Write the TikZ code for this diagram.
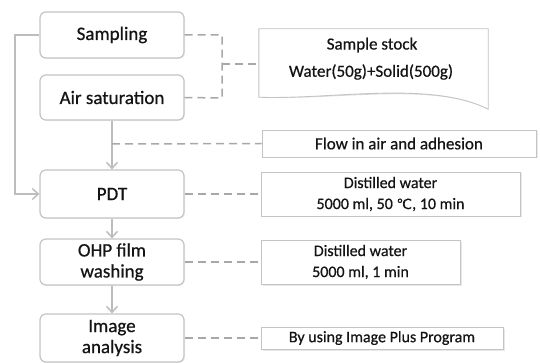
\documentclass[tikz,border=0pt]{standalone}
\usepackage{fontspec}
\setmainfont{Carlito}[FakeBold=0.6]
\newfontfamily\symfont{DejaVu Sans}[FakeBold=0.4]
\usetikzlibrary{arrows.meta,shadows}
\definecolor{boxline}{HTML}{C4C4C4}
\definecolor{dashline}{HTML}{A8A8A8}
\definecolor{arrline}{HTML}{BDBDBD}
\definecolor{txt}{HTML}{141414}
\tikzset{
  stepbox/.style={draw=boxline, line width=1.2pt, rounded corners=6pt, fill=white,
    minimum width=144pt, inner sep=0pt, align=center, text=txt,
    font=\fontsize{19}{22}\selectfont,
    drop shadow={shadow xshift=1pt, shadow yshift=-1pt, opacity=0.12}},
  notebox/.style={draw=boxline, line width=0.9pt, fill=white, inner sep=0pt,
    align=center, text=txt, font=\fontsize{17}{21}\selectfont,
    drop shadow={shadow xshift=1.5pt, shadow yshift=-1.5pt, opacity=0.18}},
  flowarrow/.style={draw=arrline, line width=1.5pt, -{Straight Barb[length=6pt,width=11pt,line width=1.5pt]}},
  dashlink/.style={draw=dashline, line width=1.5pt, dash pattern=on 8pt off 5pt},
}
\begin{document}
\begin{tikzpicture}[x=1pt,y=-1pt]
\useasboundingbox (0,0) rectangle (540,363);
% left process boxes
\node[stepbox, minimum height=46pt] (samp) at (112,35) {Sampling};
\node[stepbox, minimum height=45pt] (air) at (112,97.5) {Air saturation};
\node[stepbox, minimum height=48pt] (pdt) at (112,194) {PDT};
\node[stepbox, minimum height=46pt, font=\fontsize{19}{21}\selectfont] (ohp) at (112,262) {OHP film\\washing};
\node[stepbox, minimum height=48pt, font=\fontsize{19}{21}\selectfont] (img) at (112,338) {Image\\analysis};
% sample stock (document shape)
\node[minimum width=229pt, minimum height=68pt, inner sep=0pt] (ss) at (373.5,63) {};
\fill[black, opacity=0.15, shift={(1.5,1.5)}] (ss.north west) -- (ss.north east) -- ([yshift=-12pt]ss.south east)
  .. controls (430,80) and (330,100) .. (ss.south west) -- cycle;
\draw[boxline, line width=0.9pt, fill=white] (ss.north west) -- (ss.north east) -- ([yshift=-12pt]ss.south east)
  .. controls (430,80) and (330,100) .. (ss.south west) -- cycle;
\node[text=txt, font=\fontsize{17}{21}\selectfont] (ss1) at (372,45) {Sample stock};
\node[text=txt, font=\fontsize{17}{21}\selectfont] (ss2) at (371,72) {Water(50g)+Solid(500g)};
% note boxes
\node[notebox, minimum width=274pt, minimum height=27pt] (flow) at (399,143.5) {Flow in air and adhesion};
\node[notebox, minimum width=259pt, minimum height=44pt, font=\fontsize{16}{21}\selectfont] (dw1) at (390.5,194) {Distilled water\\5000 ml, 50 {\symfont\fontsize{14}{14}\selectfont ℃}, 10 min};
\node[notebox, minimum width=199pt, minimum height=44pt, font=\fontsize{16}{21}\selectfont] (dw2) at (360.5,262) {Distilled water\\5000 ml, 1 min};
\node[notebox, minimum width=242pt, minimum height=22pt, font=\fontsize{16}{20}\selectfont] (ip) at (382,338) {By using Image Plus Program};
% flow arrows
\coordinate (lc1) at (15,35);
\coordinate (lc2) at (15,194);
\draw[flowarrow] (samp.west) -- (lc1) -- (lc2) -- (pdt.west);
\draw[flowarrow] (air.south) -- (pdt.north);
\draw[flowarrow] (pdt.south) -- (ohp.north);
\draw[flowarrow] (ohp.south) -- (img.north);
% dashed links
\coordinate (d1) at (222,35);
\coordinate (d2) at (222,98);
\coordinate (d3) at (222,64);
\coordinate (d4) at (112,144);
\draw[dashlink] (samp.east) -- (d1) -- (d2) -- (air.east);
\draw[dashlink] (d3) -- (d3 -| ss.west);
\draw[dashlink] (d4) -- (flow.west);
\draw[dashlink] (pdt.east) -- (dw1.west);
\draw[dashlink] (ohp.east) -- (dw2.west);
\draw[dashlink] (img.east) -- (ip.west);
\end{tikzpicture}
\end{document}
